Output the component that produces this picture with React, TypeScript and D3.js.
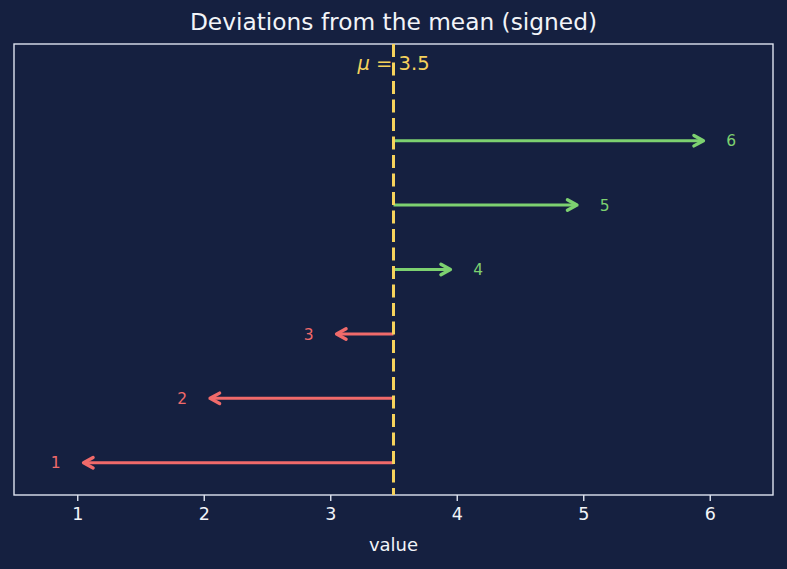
import * as d3 from "d3";
import { useEffect, useRef } from "react";

// observations and their mean
const values = [1, 2, 3, 4, 5, 6];
const mean = 3.5;
const xTicks = [1, 2, 3, 4, 5, 6];

const W = 787;
const H = 569;
const BG = "#152040";
const POS = "#7dd170";
const NEG = "#f06a6a";
const MEAN = "#f5d25c";
const FG = "#f2f4f8";
const SPINE = "#dde3ef";
const FONT = "'DejaVu Sans', sans-serif";

export default function App() {
  const svgRef = useRef<SVGSVGElement>(null);

  useEffect(() => {
    if (!svgRef.current) return;
    const svg = d3.select(svgRef.current);
    svg.selectAll("*").remove();

    const margin = { top: 44, right: 14, bottom: 74, left: 14 };
    const width = W - margin.left - margin.right;
    const height = H - margin.top - margin.bottom;

    svg.append("rect").attr("width", W).attr("height", H).attr("fill", BG);

    const x = d3.scaleLinear().domain([0.5, 6.5]).range([0, width]);
    const y = d3.scaleLinear().domain([0.5, 7.5]).range([height, 0]);

    const g = svg
      .append("g")
      .attr("transform", `translate(${margin.left},${margin.top})`);

    // frame
    g.append("rect")
      .attr("width", width)
      .attr("height", height)
      .attr("fill", "none")
      .attr("stroke", SPINE)
      .attr("stroke-width", 1.4);

    // x axis
    const xAxis = g
      .append("g")
      .attr("transform", `translate(0,${height})`)
      .call(
        d3
          .axisBottom(x)
          .tickValues(xTicks)
          .tickSize(6)
          .tickPadding(7)
          .tickFormat(d3.format("d"))
      );
    xAxis.select(".domain").remove();
    xAxis.selectAll("line").attr("stroke", SPINE).attr("stroke-width", 1.4);
    xAxis
      .selectAll("text")
      .attr("fill", FG)
      .style("font-family", FONT)
      .style("font-size", "17.5px");

    g.append("text")
      .attr("x", width / 2)
      .attr("y", height + 56)
      .attr("fill", FG)
      .attr("text-anchor", "middle")
      .style("font-family", FONT)
      .style("font-size", "18px")
      .text("value");

    svg
      .append("text")
      .attr("x", W / 2)
      .attr("y", 30)
      .attr("fill", FG)
      .attr("text-anchor", "middle")
      .style("font-family", FONT)
      .style("font-size", "23.3px")
      .text("Deviations from the mean (signed)");

    // arrows from the mean to each value
    const shrink = 0.05;
    const head = 9.5;
    values.forEach((v) => {
      const sign = v >= mean ? 1 : -1;
      const color = sign > 0 ? POS : NEG;
      const x0 = x(mean);
      const x1 = x(v - sign * shrink);
      const yy = y(v);
      g.append("line")
        .attr("x1", x0)
        .attr("x2", x1 - sign * 1.5)
        .attr("y1", yy)
        .attr("y2", yy)
        .attr("stroke", color)
        .attr("stroke-width", 3);
      g.append("path")
        .attr(
          "d",
          d3.line()([
            [x1 - sign * head, yy - head * 0.55],
            [x1, yy],
            [x1 - sign * head, yy + head * 0.55],
          ])
        )
        .attr("fill", "none")
        .attr("stroke", color)
        .attr("stroke-width", 3.4)
        .attr("stroke-linejoin", "round")
        .attr("stroke-linecap", "round");
      g.append("text")
        .attr("x", x(v + sign * 0.17))
        .attr("y", yy)
        .attr("dy", "0.36em")
        .attr("fill", color)
        .attr("text-anchor", "middle")
        .style("font-family", FONT)
        .style("font-size", "15.5px")
        .text(String(v));
    });

    // mean line
    g.append("line")
      .attr("x1", x(mean))
      .attr("x2", x(mean))
      .attr("y1", 0)
      .attr("y2", height)
      .attr("stroke", MEAN)
      .attr("stroke-width", 3)
      .attr("stroke-dasharray", "13,5.5");

    const lbl = g
      .append("text")
      .attr("x", x(mean))
      .attr("y", y(7.2))
      .attr("dy", "0.36em")
      .attr("fill", MEAN)
      .attr("text-anchor", "middle")
      .style("font-family", FONT)
      .style("font-size", "19.5px");
    lbl.append("tspan").style("font-style", "italic").text("μ");
    lbl.append("tspan").text(" = " + mean);
  }, []);

  return (
    <svg
      ref={svgRef}
      width={W}
      height={H}
      style={{ display: "block", position: "absolute", left: 0, top: 0 }}
    />
  );
}
